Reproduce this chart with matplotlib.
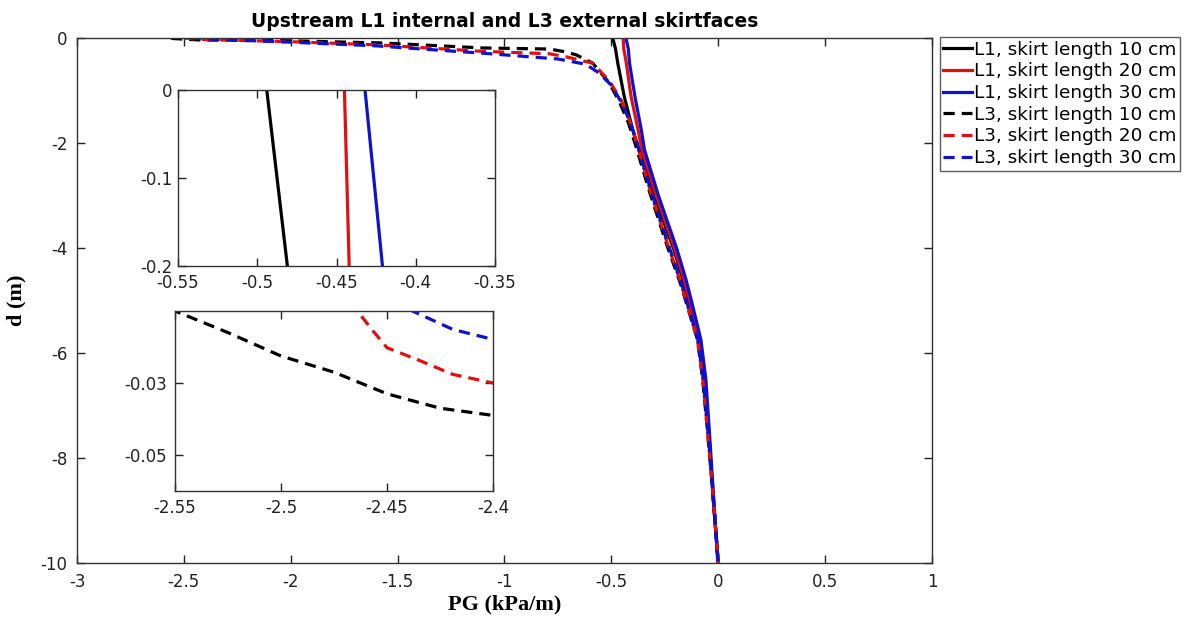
import matplotlib
matplotlib.use("Agg")
import matplotlib.pyplot as plt

# ---------------- data (PG in kPa/m, d in m) ----------------
l1_10_pg = [-0.494, -0.481, -0.47, -0.44, -0.40, -0.37, -0.30, -0.21, -0.165, -0.14, -0.085, -0.062, -0.045, -0.025, 0.0]
l1_10_d  = [0.0, -0.2, -0.48, -1.11, -1.75, -2.13, -3.0, -4.0, -4.6, -4.98, -5.75, -6.5, -7.5, -8.7, -10.0]

l1_20_pg = [-0.445, -0.442, -0.43, -0.408, -0.375, -0.357, -0.29, -0.205, -0.16, -0.135, -0.085, -0.062, -0.045, -0.025, 0.0]
l1_20_d  = [0.0, -0.2, -0.48, -1.11, -1.75, -2.13, -3.0, -4.0, -4.6, -4.98, -5.75, -6.5, -7.5, -8.7, -10.0]

l1_30_pg = [-0.432, -0.421, -0.415, -0.39, -0.36, -0.345, -0.28, -0.195, -0.151, -0.127, -0.081, -0.058, -0.042, -0.027, -0.003, 0.0]
l1_30_d  = [0.0, -0.2, -0.48, -1.11, -1.75, -2.13, -3.0, -4.0, -4.6, -4.98, -5.75, -6.5, -7.46, -8.41, -9.94, -10.0]

l3_10_pg = [-2.56, -2.55, -2.525, -2.5, -2.475, -2.45, -2.425, -2.4, -2.04, -1.57, -1.1, -0.79, -0.72, -0.665,
            -0.587, -0.509, -0.46, -0.42, -0.39, -0.32, -0.24, -0.175, -0.097, -0.073, -0.05, -0.027, 0.0]
l3_10_d  = [0.0, -0.01, -0.016, -0.0225, -0.027, -0.033, -0.037, -0.039, -0.05, -0.095, -0.19, -0.21, -0.26, -0.32,
            -0.48, -0.86, -1.24, -1.62, -2.0, -2.95, -3.95, -4.7, -5.75, -6.5, -7.5, -8.6, -10.0]

l3_20_pg = [-2.50, -2.464, -2.4565, -2.45, -2.434, -2.419, -2.4, -2.0, -1.6, -1.1, -0.79, -0.71, -0.587,
            -0.509, -0.452, -0.412, -0.382, -0.315, -0.235, -0.172, -0.097, -0.072, -0.05, -0.026, 0.0]
l3_20_d  = [0.0, -0.01, -0.0156, -0.0202, -0.0239, -0.0276, -0.030, -0.07, -0.13, -0.255, -0.30, -0.36, -0.48,
            -0.82, -1.2, -1.6, -2.0, -2.95, -3.95, -4.7, -5.75, -6.5, -7.5, -8.6, -10.0]

l3_30_pg = [-2.47, -2.438, -2.419, -2.4, -2.0, -1.6, -1.1, -0.75, -0.62, -0.56, -0.50, -0.45, -0.41,
            -0.38, -0.312, -0.232, -0.17, -0.095, -0.07, -0.048, -0.025, 0.0]
l3_30_d  = [0.0, -0.01, -0.0151, -0.0179, -0.08, -0.15, -0.29, -0.40, -0.50, -0.66, -0.9, -1.25, -1.62,
            -2.0, -2.95, -3.95, -4.7, -5.75, -6.5, -7.5, -8.6, -10.0]

labels = ["L1, skirt length 10 cm", "L1, skirt length 20 cm", "L1, skirt length 30 cm",
          "L3, skirt length 10 cm", "L3, skirt length 20 cm", "L3, skirt length 30 cm"]

main_xticks = [-3, -2.5, -2, -1.5, -1, -0.5, 0, 0.5, 1]
main_yticks = [0, -2, -4, -6, -8, -10]
in1_xticks = [-0.55, -0.5, -0.45, -0.4, -0.35]
in1_yticks = [0, -0.1, -0.2]
in2_xticks = [-2.55, -2.5, -2.45, -2.4]
in2_yticks = [-0.03, -0.05]

series = [
    (l1_10_pg, l1_10_d, "black", "-"),
    (l1_20_pg, l1_20_d, "#e01010", "-"),
    (l1_30_pg, l1_30_d, "#1010d0", "-"),
    (l3_10_pg, l3_10_d, "black", "--"),
    (l3_20_pg, l3_20_d, "#e01010", "--"),
    (l3_30_pg, l3_30_d, "#1010d0", "--"),
]

plt.rcParams['font.family'] = ['DejaVu Sans']
axcol = "#333333"

fig = plt.figure(figsize=(11.85, 6.26), dpi=100)
W, H = 1185, 626

def frac(l, r, t, b):
    return [l / W, 1 - b / H, (r - l) / W, (b - t) / H]

def style(ax, fs, pad=5):
    ax.tick_params(direction="in", top=True, right=True, labelsize=fs, colors="#222222",
                   length=6, width=1.0, pad=pad)
    for s in ax.spines.values():
        s.set_color(axcol)
        s.set_linewidth(1.0)

def draw(ax, lw):
    for (x, y, c, ls), lab in zip(series, labels):
        if ls == "--":
            ax.plot(x, y, color=c, lw=lw, linestyle=(0, (3.5, 2.2)), label=lab)
        else:
            ax.plot(x, y, color=c, lw=lw, label=lab)

ax = fig.add_axes(frac(77, 932, 38, 563))
draw(ax, 2.3)
ax.set_xlim(-3, 1)
ax.set_ylim(-10, 0)
ax.set_xticks(main_xticks)
ax.set_xticklabels(["-3", "-2.5", "-2", "-1.5", "-1", "-0.5", "0", "0.5", "1"])
ax.set_yticks(main_yticks)
ax.set_yticklabels(["0", "-2", "-4", "-6", "-8", "-10"])
style(ax, 12, pad=7)
ax.set_xlabel("PG (kPa/m)", fontsize=16, fontweight="bold", family="Liberation Serif", labelpad=3)
ax.set_ylabel("d (m)", fontsize=16, fontweight="bold", family="Liberation Serif", labelpad=10)
ax.set_title("Upstream L1 internal and L3 external skirtfaces", fontsize=13.5, fontweight="bold", pad=8)

leg = ax.legend(loc="upper left", bbox_to_anchor=(1.009, 1.002), fontsize=13.3, frameon=True,
                fancybox=False, edgecolor="#333333", handlelength=1.55, handletextpad=0.1,
                borderpad=0.2, labelspacing=0.2, borderaxespad=0.0)
leg.get_frame().set_linewidth(1.0)

# inset 1
ax1 = fig.add_axes(frac(178, 495, 90, 266))
draw(ax1, 2.3)
ax1.set_xlim(-0.55, -0.35)
ax1.set_ylim(-0.2, 0)
ax1.set_xticks(in1_xticks)
ax1.set_xticklabels(["-0.55", "-0.5", "-0.45", "-0.4", "-0.35"])
ax1.set_yticks(in1_yticks)
ax1.set_yticklabels(["0", "-0.1", "-0.2"])
style(ax1, 12, pad=4)
ax1.tick_params(axis="x", pad=6)

# inset 2
ax2 = fig.add_axes(frac(175, 493, 311, 491))
draw(ax2, 2.3)
ax2.set_xlim(-2.55, -2.4)
ax2.set_ylim(-0.06, -0.01)
ax2.set_xticks(in2_xticks)
ax2.set_xticklabels(["-2.55", "-2.5", "-2.45", "-2.4"])
ax2.set_yticks(in2_yticks)
ax2.set_yticklabels(["-0.03", "-0.05"])
style(ax2, 12, pad=6)

fig.savefig("out.png", dpi=100)
